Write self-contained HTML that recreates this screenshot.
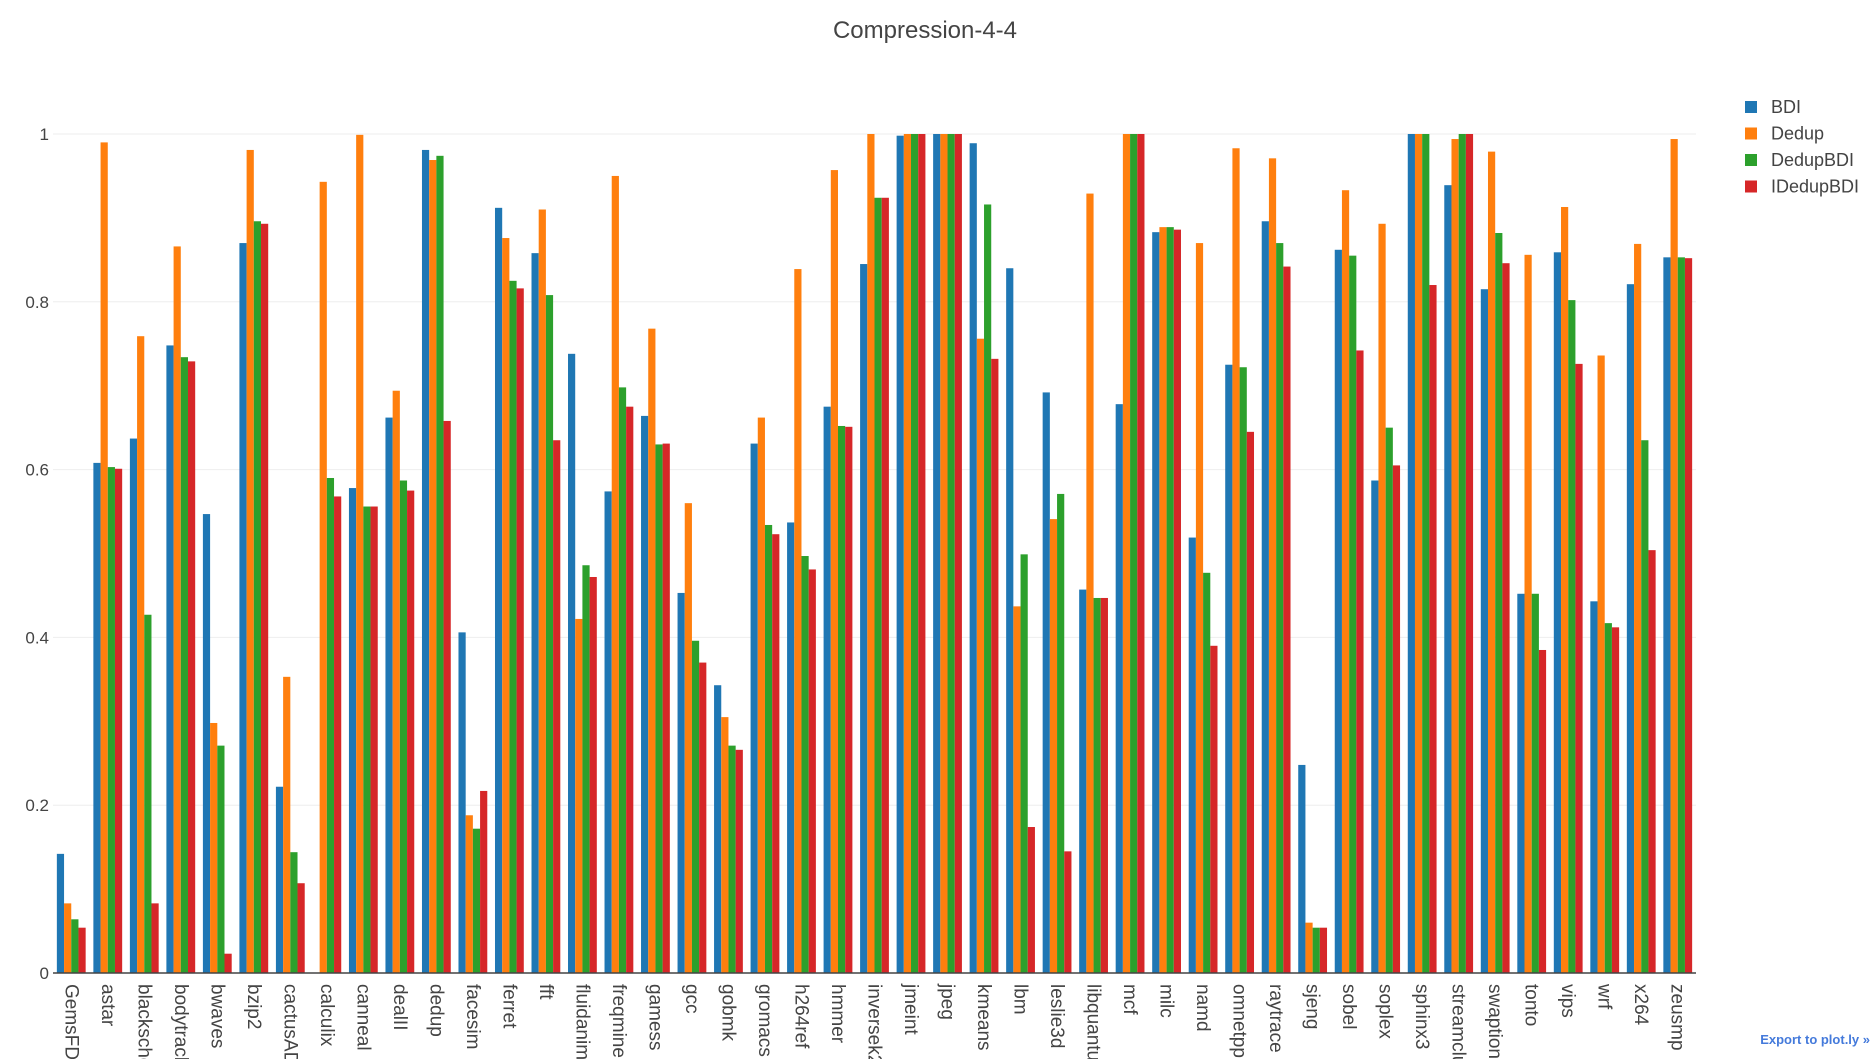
<!DOCTYPE html>
<html><head><meta charset="utf-8"><style>
html,body{margin:0;padding:0;background:#fff;}
svg{display:block;font-family:"Liberation Sans",sans-serif;}
</style></head><body>
<svg id="chart" width="1876" height="1059" viewBox="0 0 1876 1059">
<text x="925" y="38" text-anchor="middle" font-size="24" fill="#444">Compression-4-4</text>
<g id="grid"></g><g id="bars"></g><g id="xlabels"></g>
<g id="legend"></g>
<text x="1870" y="1044" text-anchor="end" font-size="13" font-weight="bold" fill="#447adb">Export to plot.ly »</text>
</svg>
<script>
const categories=["GemsFDTD","astar","blackscholes","bodytrack","bwaves","bzip2","cactusADM","calculix","canneal","dealII","dedup","facesim","ferret","fft","fluidanimate","freqmine","gamess","gcc","gobmk","gromacs","h264ref","hmmer","inversek2j","jmeint","jpeg","kmeans","lbm","leslie3d","libquantum","mcf","milc","namd","omnetpp","raytrace","sjeng","sobel","soplex","sphinx3","streamcluster","swaptions","tonto","vips","wrf","x264","zeusmp"];
const bdi=[.142,.608,.637,.748,.547,.870,.222,0,.578,.662,.981,.406,.912,.858,.738,.574,.664,.453,.343,.631,.537,.675,.845,.998,1,.989,.840,.692,.457,.678,.883,.519,.725,.896,.248,.862,.587,1,.939,.815,.452,.859,.443,.821,.853];
const dedup=[.083,.99,.759,.866,.298,.981,.353,.943,.999,.694,.969,.188,.876,.910,.422,.950,.768,.560,.305,.662,.839,.957,1,1,1,.756,.437,.541,.929,1,.889,.870,.983,.971,.060,.933,.893,1,.994,.979,.856,.913,.736,.869,.994];
const dedupBdi=[.064,.603,.427,.734,.271,.896,.144,.590,.556,.587,.974,.172,.825,.808,.486,.698,.630,.396,.271,.534,.497,.652,.924,1,1,.916,.499,.571,.447,1,.889,.477,.722,.870,.054,.855,.650,1,1,.882,.452,.802,.417,.635,.853];
const idedupBdi=[.054,.601,.083,.729,.023,.893,.107,.568,.556,.575,.658,.217,.816,.635,.472,.675,.631,.370,.266,.523,.481,.651,.924,1,1,.732,.174,.145,.447,1,.886,.390,.645,.842,.054,.742,.605,.820,1,.846,.385,.726,.412,.504,.852];
const seriesNames=["BDI","Dedup","DedupBDI","IDedupBDI"];
const yTicks=[0,0.2,0.4,0.6,0.8,1];
const colors=["#1f77b4","#ff7f0e","#2ca02c","#d62728"];
const series=[bdi,dedup,dedupBdi,idedupBdi];
const NS="http://www.w3.org/2000/svg";
const X0=53,X1=1696,Y0=973,Y1=134;
const band=(X1-X0)/categories.length;
const y=v=>Y0-v*(Y0-Y1);
const xb=i=>X0+i*band;
function mk(t,a,p){const e=document.createElementNS(NS,t);for(const k in a)e.setAttribute(k,a[k]);p.appendChild(e);return e;}
const grid=document.getElementById('grid');
yTicks.forEach(t=>{
  if(t>0){const l=mk('line',{x1:X0,x2:X1,y1:y(t),y2:y(t),stroke:'#eee','stroke-width':1},grid);
  
  }
  const tx=mk('text',{x:X0-4,y:y(t)+6,'text-anchor':'end','font-size':17,fill:'#444'},grid);
  tx.textContent=String(t);
  
  
});
const bars=document.getElementById('bars');
const bw=7.2,gw=bw*4,off=(band-gw)/2;
categories.forEach((c,i)=>{
  series.forEach((s,j)=>{
    const v=s[i];
    const r=mk('rect',{x:xb(i)+off+j*bw,y:y(v),width:bw,height:Y0-y(v),fill:colors[j]},bars);
    
    
  });
  const tx=mk('text',{transform:`translate(${xb(i)+band/2-6},984) rotate(90)`,'font-size':19,fill:'#444'},document.getElementById('xlabels'));
  tx.textContent=c;
  
  
});
const ax=mk('line',{x1:X0,x2:X1,y1:Y0,y2:Y0,stroke:'#444','stroke-width':1.5},bars);


const lg=document.getElementById('legend');
seriesNames.forEach((n,j)=>{
  const yy=107+j*26.5;
  const r=mk('rect',{x:1745,y:yy-6,width:12,height:12,fill:colors[j]},lg);
  
  
  const t=mk('text',{x:1771,y:yy+6,'font-size':18,fill:'#444'},lg);
  t.textContent=n;
  
  
});
</script>
</body></html>
